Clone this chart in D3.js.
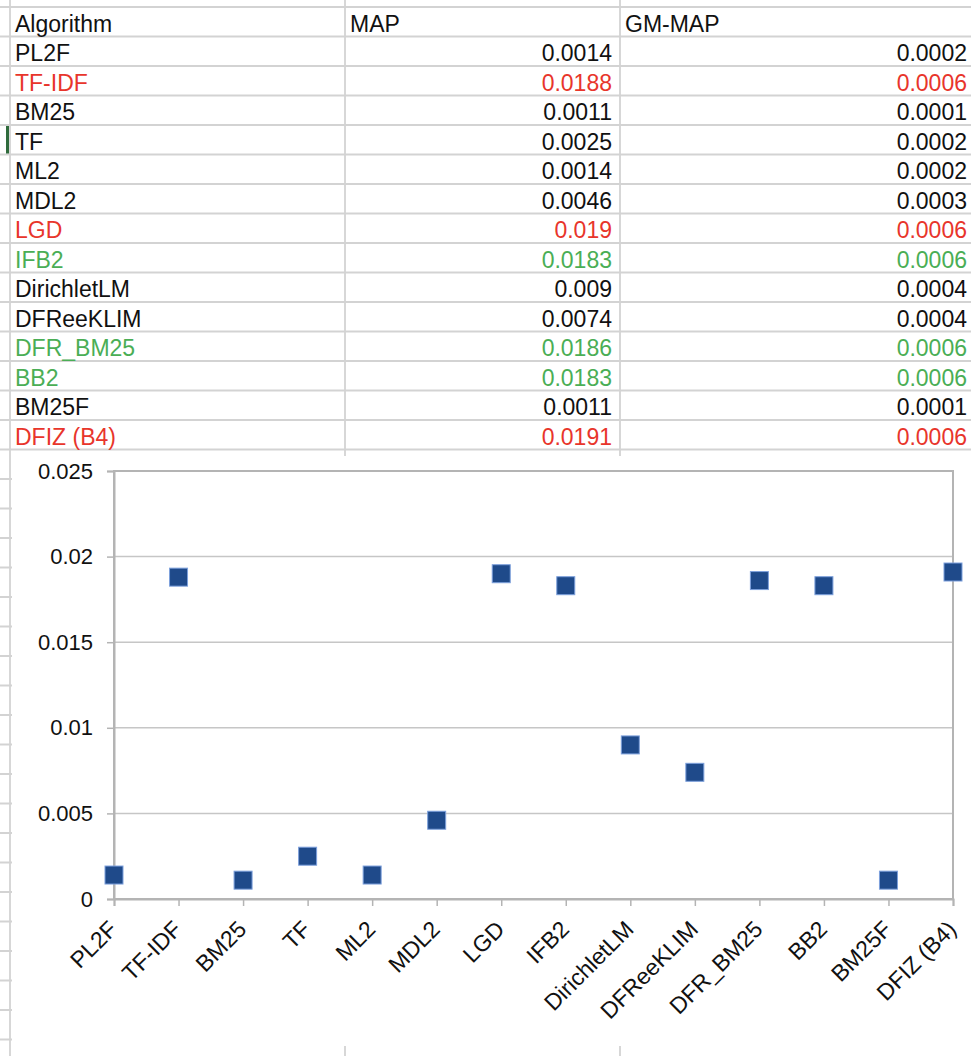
<!DOCTYPE html>
<html>
<head>
<meta charset="utf-8">
<script src="https://cdn.jsdelivr.net/npm/d3@7"></script>
<style>
  html, body { margin: 0; padding: 0; background: #fff; }
  svg { display: block; }
</style>
</head>
<body>
<svg id="chart" width="971" height="1056"></svg>
<script>
// ---- data ----
const headers = ["Algorithm", "MAP", "GM-MAP"];
const algorithms = ["PL2F", "TF-IDF", "BM25", "TF", "ML2", "MDL2", "LGD", "IFB2",
  "DirichletLM", "DFReeKLIM", "DFR_BM25", "BB2", "BM25F", "DFIZ (B4)"];
const mapValues = [0.0014, 0.0188, 0.0011, 0.0025, 0.0014, 0.0046, 0.019, 0.0183,
  0.009, 0.0074, 0.0186, 0.0183, 0.0011, 0.0191];
const gmMapValues = [0.0002, 0.0006, 0.0001, 0.0002, 0.0002, 0.0003, 0.0006, 0.0006,
  0.0004, 0.0004, 0.0006, 0.0006, 0.0001, 0.0006];
const redRows = ["TF-IDF", "LGD", "DFIZ (B4)"];
const greenRows = ["IFB2", "DFR_BM25", "BB2"];
const yTicks = [0, 0.005, 0.01, 0.015, 0.02, 0.025];

// ---- styles ----
const FONT = "'Liberation Sans', Arial, Helvetica, sans-serif";
const RED = "#e8352b", GREEN = "#4aae55", BLACK = "#111";
const GRID = "#d3d3d3";

const svg = d3.select("#chart");
svg.append("rect").attr("width", 971).attr("height", 1056).attr("fill", "#fff");

// ---- spreadsheet table ----
const rowTop = 7, rowH = 29.5;
const colX = [10, 345, 620, 971];
const nRowsVisible = 36;
const table = svg.append("g");

d3.range(nRowsVisible + 1).forEach(i => {
  const yy = rowTop + i * rowH;
  table.append("line").attr("x1", 0).attr("x2", 971).attr("y1", yy).attr("y2", yy)
    .attr("stroke", GRID).attr("stroke-width", 1.8);
});
colX.slice(0, 3).forEach(xx => {
  table.append("line").attr("x1", xx).attr("x2", xx).attr("y1", 0).attr("y2", 1056)
    .attr("stroke", GRID).attr("stroke-width", 1.8);
});
// active-cell marker
table.append("rect").attr("x", 6).attr("y", rowTop + 4 * rowH + 1).attr("width", 3)
  .attr("height", rowH - 2).attr("fill", "#2f6b3c");

const colorFor = a => redRows.includes(a) ? RED : greenRows.includes(a) ? GREEN : BLACK;
const fs = 23;
headers.forEach((h, j) => {
  table.append("text").attr("x", colX[j] + 5).attr("y", rowTop + 24.5)
    .attr("font-family", FONT).attr("font-size", fs).attr("fill", BLACK).text(h);
});
algorithms.forEach((a, i) => {
  const yy = rowTop + (i + 1) * rowH + 24.5;
  const c = colorFor(a);
  table.append("text").attr("x", colX[0] + 5).attr("y", yy)
    .attr("font-family", FONT).attr("font-size", fs).attr("fill", c).text(a);
  table.append("text").attr("x", colX[2] - 8).attr("y", yy).attr("text-anchor", "end")
    .attr("font-family", FONT).attr("font-size", fs).attr("fill", c).text(String(mapValues[i]));
  table.append("text").attr("x", colX[3] - 4).attr("y", yy).attr("text-anchor", "end")
    .attr("font-family", FONT).attr("font-size", fs).attr("fill", c).text(String(gmMapValues[i]));
});

// ---- chart object ----
const chartBox = {x: 12, y: 456, w: 971 - 12, h: 1046 - 456};
svg.append("rect").attr("x", chartBox.x).attr("y", chartBox.y)
  .attr("width", chartBox.w).attr("height", chartBox.h).attr("fill", "#fff");

const plot = {left: 114, top: 471, right: 953, bottom: 899};
const x = d3.scalePoint().domain(algorithms).range([plot.left, plot.right]).padding(0);
const y = d3.scaleLinear().domain([0, 0.025]).range([plot.bottom, plot.top]);

const chart = svg.append("g");
chart.append("g").selectAll("line").data(yTicks).join("line")
  .attr("x1", plot.left).attr("x2", plot.right)
  .attr("y1", d => y(d)).attr("y2", d => y(d))
  .attr("stroke", "#c6c6c6").attr("stroke-width", 1.5);
chart.append("rect").attr("x", plot.left).attr("y", plot.top)
  .attr("width", plot.right - plot.left).attr("height", plot.bottom - plot.top)
  .attr("fill", "none").attr("stroke", "#b4b4b4").attr("stroke-width", 2);

// y axis
const fmt = d => String(+d.toFixed(3));
const yAxis = chart.append("g").attr("transform", `translate(${plot.left},0)`)
  .call(d3.axisLeft(y).tickValues(yTicks).tickFormat(fmt).tickSize(7).tickPadding(14));
yAxis.select(".domain").attr("stroke", "#b4b4b4").attr("stroke-width", 2);
yAxis.selectAll(".tick line").attr("stroke", "#b4b4b4").attr("stroke-width", 1.5);
yAxis.selectAll("text").attr("font-family", FONT).attr("font-size", 22).attr("fill", BLACK);

// x axis
const xAxis = chart.append("g").attr("transform", `translate(0,${plot.bottom})`)
  .call(d3.axisBottom(x).tickSize(7).tickFormat(""));
xAxis.select(".domain").attr("stroke", "#b4b4b4").attr("stroke-width", 2);
xAxis.selectAll(".tick line").attr("stroke", "#b4b4b4").attr("stroke-width", 1.5);
chart.append("g").selectAll("text").data(algorithms).join("text")
  .attr("transform", d => `translate(${x(d) - 1},${plot.bottom + 26}) rotate(-45)`)
  .attr("text-anchor", "end").attr("dominant-baseline", "central")
  .attr("font-family", FONT).attr("font-size", 23).attr("fill", BLACK)
  .text(d => d);

// markers
const ms = 18;
chart.append("g").selectAll("rect").data(algorithms).join("rect")
  .attr("x", d => x(d) - ms / 2)
  .attr("y", (d, i) => y(mapValues[i]) - ms / 2)
  .attr("width", ms).attr("height", ms)
  .attr("fill", "#1f4a8a").attr("stroke", "#7da0dc").attr("stroke-width", 1);
</script>
</body>
</html>
